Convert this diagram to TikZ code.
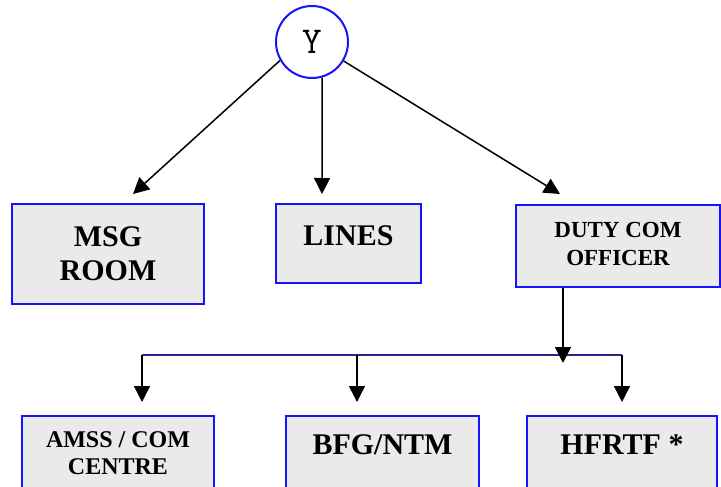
\documentclass[tikz,border=0pt]{standalone}
\usepackage{fontspec}
\setmainfont{Liberation Serif}
\usetikzlibrary{arrows.meta}
\definecolor{frameblue}{RGB}{20,20,250}
\definecolor{busnavy}{RGB}{40,40,140}
\definecolor{marble}{RGB}{234,234,234}

\begin{document}
\begin{tikzpicture}[x=1pt,y=-1pt,
  box/.style={draw=frameblue, line width=2pt, fill=marble, rectangle, inner sep=0pt},
  boxtext/.style={align=center, inner sep=0pt},
  bigtext/.style={boxtext, font=\bfseries\fontsize{30}{34}\selectfont},
  smalltext/.style={boxtext, font=\bfseries\fontsize{23}{28}\selectfont},
  arr/.style={draw=black, line width=1.5pt, -{Triangle[length=16pt,width=16pt]}},
  bus/.style={draw=busnavy, line width=1.7pt}]

\useasboundingbox (0,0) rectangle (721,487);
\clip (0,0) rectangle (721,487);

% top node
\node[draw=frameblue, line width=2pt, circle, minimum size=72pt, inner sep=0pt,
      font=\ttfamily\fontsize{38}{38}\selectfont] (Y) at (312,42) {Y};

% second row
\node[box, minimum width=192pt, minimum height=100pt] (msg) at (108,254) {};
\node[bigtext] (msgtext) at (msg.center) {MSG\\ROOM};

\node[box, minimum width=145pt, minimum height=79pt] (lines) at (348.5,243.5) {};
\node[bigtext] (linestext) at (348.5,236) {LINES};

\node[box, minimum width=204pt, minimum height=82pt] (duty) at (618,246) {};
\node[smalltext] (dutytext) at (618,244) {DUTY COM\\OFFICER};

% bottom row (boxes run past the lower edge)
\node[box, anchor=north, minimum width=192pt, minimum height=100pt] (amss) at (118,415) {};
\node[boxtext, font=\bfseries\fontsize{24}{27}\selectfont] (amsstext) at (118,453) {AMSS / COM\\CENTRE};

\node[box, anchor=north, minimum width=193pt, minimum height=100pt] (bfg) at (382.5,415) {};
\node[bigtext] (bfgtext) at (382.5,445) {BFG/NTM};

\node[box, anchor=north, minimum width=190pt, minimum height=100pt] (hfrtf) at (622,415) {};
\node[bigtext] (hfrtftext) at (622,445) {HFRTF *};

% arrows from the top node
\draw[arr] (Y.210) -- ([xshift=25pt,yshift=9pt]msg.north);
\draw[arr] (Y.286) -- ([xshift=-26.5pt,yshift=9pt]lines.north);
\draw[arr] (Y.329) -- ([xshift=-58pt,yshift=10pt]duty.north);

% distribution line to the bottom row
\coordinate (busL) at (142,355);
\coordinate (busM) at (357,355);
\coordinate (busR) at (622,355);
\draw[bus] (busL) -- (busR);
\draw[arr, shorten >=13pt] (busL) -- (busL |- amss.north);
\draw[arr, shorten >=13pt] (busM) -- (busM |- bfg.north);
\draw[arr, shorten >=13pt] (busR) -- (busR |- hfrtf.north);

\coordinate (drop) at ([xshift=-55pt]duty.south);
\coordinate (dropend) at (563,363);
\draw[arr] (drop) -- (dropend);
\end{tikzpicture}
\end{document}
